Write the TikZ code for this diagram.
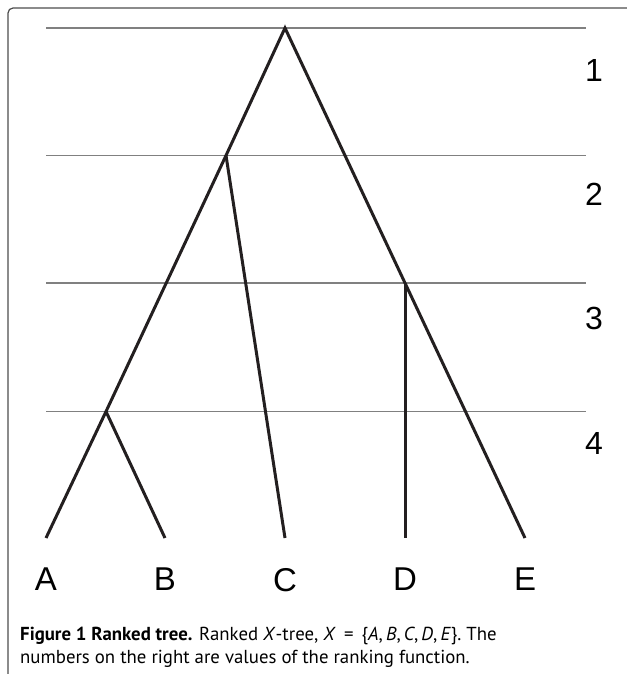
\documentclass[tikz,border=0pt]{standalone}
\usepackage{fontspec}
\setmainfont{Liberation Sans}
\newfontfamily\capfont{PT Sans}
\usepackage{tikz}
\usetikzlibrary{
  arrows.meta,
  positioning,
}
\definecolor{treeblack}{HTML}{231F20}
\definecolor{rulegray}{HTML}{808080}
\definecolor{framegray}{HTML}{4D4D4D}

\begin{document}
\begin{tikzpicture}[
    x=1pt, y=-1pt,
    edge/.style={treeblack, line width=3pt, line join=miter},
    rank/.style={rulegray, line width=1.1pt},
    leaf/.style={font=\fontsize{33}{36}\selectfont, inner sep=0pt},
    rankno/.style={font=\fontsize{32}{36}\selectfont, inner sep=0pt},
    capline/.style={font=\capfont\fontsize{18.8}{22}\selectfont, anchor=base west, inner sep=0pt},
  ]
  \useasboundingbox (0,0) rectangle (626,674);

  % Frame
  \draw[framegray, line width=1.2pt, rounded corners=5pt] (8,680) -- (8,8) -- (632,8);

  % Rank levels and their values
  \foreach \y/\k/\ny in {28/1/70, 155.5/2/194.5, 283/3/318.5, 411.5/4/443} {
    \draw[rank] (46,\y) -- (586,\y);
    \node[rankno] (r\k) at (594,\ny) {\k};
  }

  % Inner vertices
  \coordinate (root) at (285,28);
  \coordinate (v2) at (226,155.5);
  \coordinate (v3) at (405,283);
  \coordinate (v4) at (106,411.5);

  % Leaves
  \foreach \n/\x in {A/46, B/165, C/285, D/405, E/525} {
    \coordinate (\n) at (\x,538);
    \node[leaf, below=30pt of \n, anchor=north] (l\n) {\n};
  }

  % Tree edges
  \draw[edge] (A) -- (v4) -- (v2) -- (root) -- (v3) -- (E);
  \draw[edge] (v4) -- (B);
  \draw[edge] (v2) -- (C);
  \draw[edge] (v3) -- (D);

  % Caption
  \node[capline] (cap1) at (20,640) {\textbf{Figure 1 Ranked tree.} Ranked \textit{X}-tree, \textit{X}\ \,=\ \,\{\textit{A},\,\textit{B},\,\textit{C},\,\textit{D},\,\textit{E}\}. The};
  \node[capline] (cap2) at (20,663) {numbers on the right are values of the ranking function.};
\end{tikzpicture}
\end{document}
